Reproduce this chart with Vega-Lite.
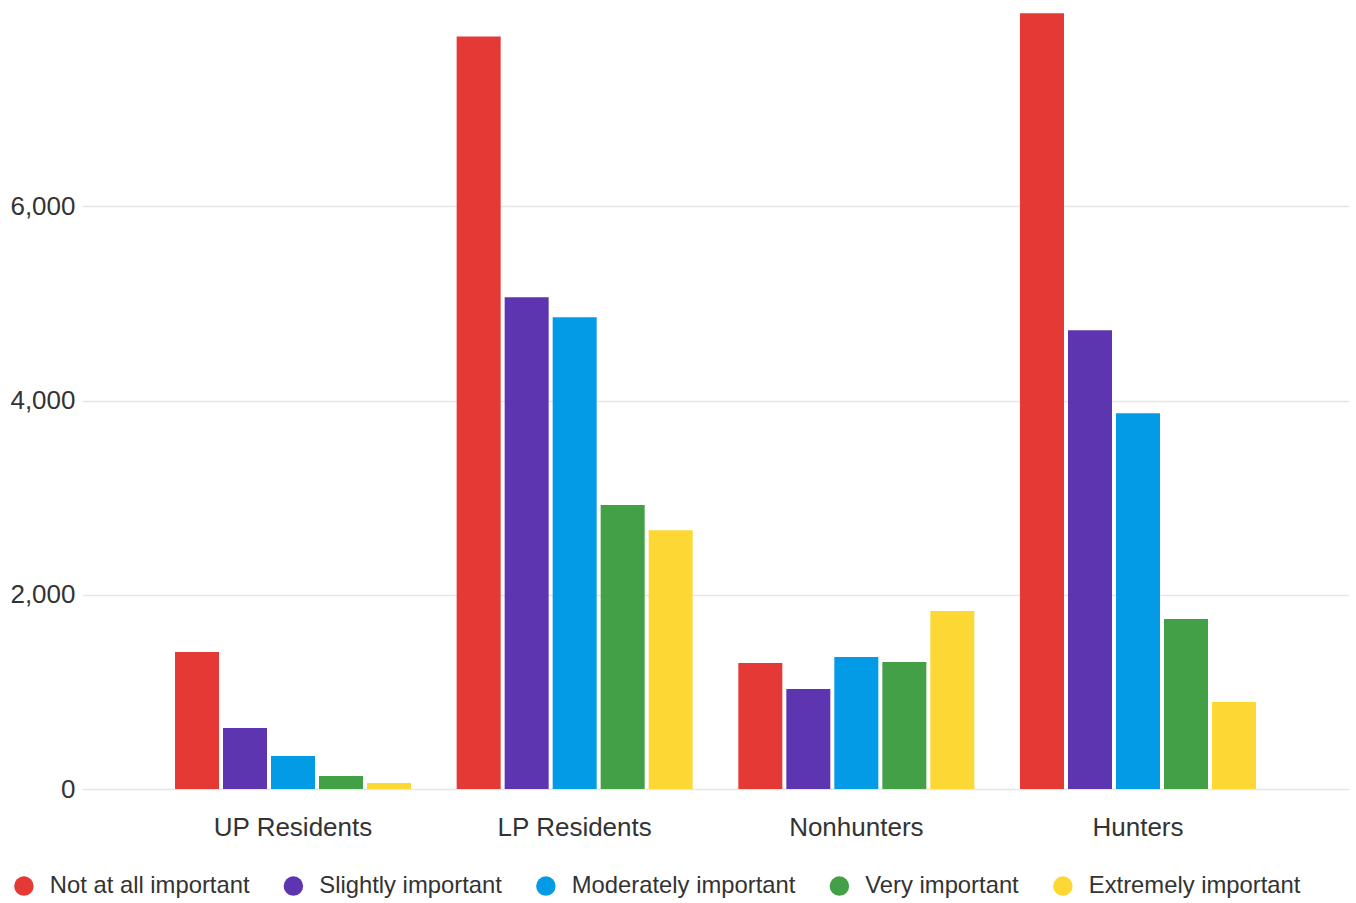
{
  "$schema": "https://vega.github.io/schema/vega-lite/v6.json",
  "width": 1267,
  "height": 777,
  "autosize": {"type": "none"},
  "padding": {"left": 82, "top": 12, "right": 7, "bottom": 114},
  "background": "white",
  "config": {
    "view": {"stroke": null},
    "font": "Liberation Sans"
  },
  "data": {
    "values": [
      {"group": "UP Residents", "importance": "Not at all important", "count": 1410},
      {"group": "UP Residents", "importance": "Slightly important", "count": 628},
      {"group": "UP Residents", "importance": "Moderately important", "count": 340},
      {"group": "UP Residents", "importance": "Very important", "count": 134},
      {"group": "UP Residents", "importance": "Extremely important", "count": 62},
      {"group": "LP Residents", "importance": "Not at all important", "count": 7749},
      {"group": "LP Residents", "importance": "Slightly important", "count": 5063},
      {"group": "LP Residents", "importance": "Moderately important", "count": 4857},
      {"group": "LP Residents", "importance": "Very important", "count": 2923},
      {"group": "LP Residents", "importance": "Extremely important", "count": 2665},
      {"group": "Nonhunters", "importance": "Not at all important", "count": 1297},
      {"group": "Nonhunters", "importance": "Slightly important", "count": 1029},
      {"group": "Nonhunters", "importance": "Moderately important", "count": 1358},
      {"group": "Nonhunters", "importance": "Very important", "count": 1307},
      {"group": "Nonhunters", "importance": "Extremely important", "count": 1832},
      {"group": "Hunters", "importance": "Not at all important", "count": 7986},
      {"group": "Hunters", "importance": "Slightly important", "count": 4724},
      {"group": "Hunters", "importance": "Moderately important", "count": 3870},
      {"group": "Hunters", "importance": "Very important", "count": 1750},
      {"group": "Hunters", "importance": "Extremely important", "count": 895}
    ]
  },
  "mark": {"type": "bar"},
  "encoding": {
    "x": {
      "field": "group",
      "type": "nominal",
      "sort": ["UP Residents", "LP Residents", "Nonhunters", "Hunters"],
      "scale": {"paddingInner": 0.1621, "paddingOuter": 0.3302},
      "axis": {
        "title": null,
        "labelAngle": 0,
        "labelFontSize": 26,
        "labelColor": "#333333",
        "labelPadding": 25,
        "ticks": false,
        "domain": false,
        "grid": false
      }
    },
    "xOffset": {
      "field": "importance",
      "type": "nominal",
      "sort": ["Not at all important", "Slightly important", "Moderately important", "Very important", "Extremely important"],
      "scale": {"paddingInner": 0.0833, "paddingOuter": 0}
    },
    "y": {
      "field": "count",
      "type": "quantitative",
      "scale": {"domain": [0, 8000], "nice": false},
      "axis": {
        "title": null,
        "values": [0, 2000, 4000, 6000],
        "format": ",d",
        "labelFontSize": 26,
        "labelColor": "#333333",
        "labelPadding": 7,
        "ticks": false,
        "domain": false,
        "gridColor": "#e6e6e6",
        "gridWidth": 1.5
      }
    },
    "color": {
      "field": "importance",
      "type": "nominal",
      "sort": ["Not at all important", "Slightly important", "Moderately important", "Very important", "Extremely important"],
      "scale": {
        "domain": ["Not at all important", "Slightly important", "Moderately important", "Very important", "Extremely important"],
        "range": ["#E53935", "#5E35B1", "#039BE5", "#43A047", "#FDD835"]
      },
      "legend": {
        "title": null,
        "orient": "none",
        "direction": "horizontal",
        "legendX": -70,
        "legendY": 862,
        "symbolType": "circle",
        "symbolSize": 380,
        "symbolStrokeWidth": 0,
        "labelFontSize": 23.8,
        "labelColor": "#333333",
        "labelOffset": 14,
        "columnPadding": 31.5,
        "labelLimit": 400
      }
    }
  }
}
